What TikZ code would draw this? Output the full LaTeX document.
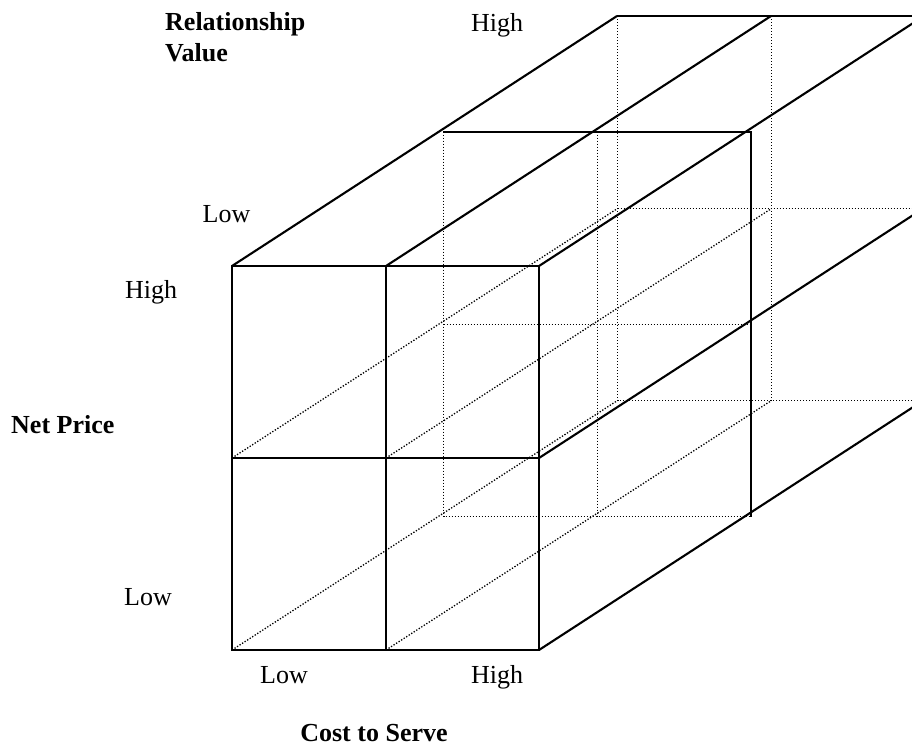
\documentclass[tikz,border=0pt]{standalone}
\usepackage{fontspec}
\setmainfont{Liberation Serif}
\begin{document}
\begin{tikzpicture}[x=1pt,y=-1pt,
  edge/.style={line width=2.1pt, line join=miter},
  hidden/.style={line width=1.3pt, dash pattern=on 1.3pt off 1.7pt},
  lbl/.style={font=\fontsize{26}{30}\selectfont, inner sep=0pt, anchor=base},
  ttl/.style={font=\fontsize{26}{30}\selectfont\bfseries, inner sep=0pt, anchor=base west}]
\useasboundingbox (0,0) rectangle (912,745);
\clip (0,0) rectangle (912,745);
% front face
\coordinate (F00) at (232,266); \coordinate (F10) at (386,266); \coordinate (F20) at (539,266);
\coordinate (F01) at (232,458); \coordinate (F11) at (386,458); \coordinate (F21) at (539,458);
\coordinate (F02) at (232,650); \coordinate (F12) at (386,650); \coordinate (F22) at (539,650);
% middle slice
\coordinate (M00) at (443.5,131.5); \coordinate (M10) at (597.5,131.5); \coordinate (M20) at (751,132);
\coordinate (M01) at (443.5,324.5); \coordinate (M21) at (751,324.5);
\coordinate (M02) at (443.5,516.5); \coordinate (M12) at (597.5,516.5); \coordinate (M22) at (751,516.5);
\coordinate (M00s) at (443,132);
% back face
\coordinate (B00) at (617,16); \coordinate (B10) at (771,16); \coordinate (B20) at (924,16);
\coordinate (B00h) at (617.5,16); \coordinate (B10h) at (771.5,16);
\coordinate (B01) at (617.5,208.5); \coordinate (B11) at (771.5,208.5); \coordinate (B21) at (924,208.5);
\coordinate (B02) at (617.5,400.5); \coordinate (B12) at (771.5,400.5); \coordinate (B22) at (924,400.5);
\coordinate (B21s) at (924,208); \coordinate (B22s) at (924,400);
% hidden lines
\draw[hidden] (F01) -- (B01);
\draw[hidden] (F02) -- (B02);
\draw[hidden] (F11) -- (B11);
\draw[hidden] (F12) -- (B12);
\draw[hidden] (M00) -- (M02) -- (M22);
\draw[hidden] (M10) -- (M12);
\draw[hidden] (M01) -- (M21);
\draw[hidden] (B00h) -- (B02) -- (B22);
\draw[hidden] (B10h) -- (B12);
\draw[hidden] (B01) -- (B21);
% visible edges
\draw[edge] (F00) -- (B00);
\draw[edge] (F10) -- (B10);
\draw[edge] (F20) -- (B20);
\draw[edge] (F21) -- (B21s);
\draw[edge] (F22) -- (B22s);
\draw[edge] (B00) -- (B20);
\draw[edge] (M00s) -- (M20) -- (M22);
\draw[edge] (F00) rectangle (F22);
\draw[edge] (F10) -- (F12);
\draw[edge] (F01) -- (F21);
% labels
\node[ttl] (rv1) at (165,30) {Relationship};
\node[ttl] (rv2) at (165,61) {Value};
\node[lbl] (rvhigh) at (497,31) {High};
\node[lbl] (rvlow) at (226.5,222) {Low};
\node[lbl] (nphigh) at (151,298.5) {High};
\node[ttl] (np) at (11,433) {Net Price};
\node[lbl] (nplow) at (148,605) {Low};
\node[lbl] (cslow) at (284,683.5) {Low};
\node[lbl] (cshigh) at (497,683.5) {High};
\node[lbl, font=\fontsize{26}{30}\selectfont\bfseries] (cs) at (374,741) {Cost to Serve};
\end{tikzpicture}
\end{document}
